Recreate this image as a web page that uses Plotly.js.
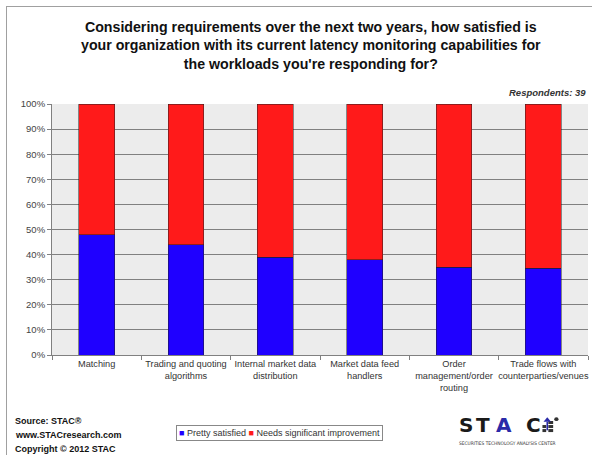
<!DOCTYPE html>
<html>
<head>
<meta charset="utf-8">
<script src="https://cdn.plot.ly/plotly-3.0.1.min.js"></script>
<style>
  html, body { margin: 0; padding: 0; background: #fff; }
  #wrap { position: relative; width: 592px; height: 455px; overflow: hidden; }
  #frame { position: absolute; left: 6px; top: 6px; width: 600px; height: 460px; border: 1px solid #a0a0a0; box-sizing: border-box; pointer-events: none; }
  #chart { position: absolute; left: 0; top: 0; width: 592px; height: 455px; }
</style>
</head>
<body>
<div id="wrap">
  <div id="chart"></div>
  <div id="frame"></div>
</div>
<script>
const categories = [
  "Matching",
  "Trading and quoting<br>algorithms",
  "Internal market data<br>distribution",
  "Market data feed<br>handlers",
  "Order<br>management/order<br>routing",
  "Trade flows with<br>counterparties/venues"
];
const prettySatisfied = [48, 44, 39, 38, 35, 34.5];
const needsImprovement = prettySatisfied.map(v => 100 - v);
const seriesNames = ["Pretty satisfied", "Needs significant improvement"];
const seriesColors = ["#1f00ff", "#ff1a1a"];
const yTickVals = [0, 10, 20, 30, 40, 50, 60, 70, 80, 90, 100];
const yTickText = yTickVals.map(v => v + "%");
const logoLetters = ["S", "T", "A", "C"];

const font = "Liberation Sans, Arial, sans-serif";

const traces = [
  {
    type: "bar", name: seriesNames[0], x: categories, y: prettySatisfied,
    marker: { color: seriesColors[0], line: { color: "#202020", width: 0.5 } },
    hoverinfo: "skip"
  },
  {
    type: "bar", name: seriesNames[1], x: categories, y: needsImprovement,
    marker: { color: seriesColors[1], line: { color: "#202020", width: 0.5 } },
    hoverinfo: "skip"
  }
];

const legendText = seriesNames.map((n, i) =>
  "<span style='color:" + seriesColors[i] + "'>■</span> " + n).join(" ");

const logoX = [0.7733, 0.805, 0.8424, 0.8983];
const logoAnnotations = logoLetters.map((l, i) => ({
  xref: "paper", yref: "paper", x: logoX[i], y: -0.279, xanchor: "center", yanchor: "middle",
  text: "<b>" + l + "</b>", showarrow: false,
  font: { family: "DejaVu Sans, sans-serif", size: 20, color: l === "A" ? "#2a2aa8" : "#1a1a1a" }
}));

const layout = {
  width: 592, height: 455,
  margin: { l: 52, r: 4, t: 104, b: 100, pad: 0 },
  paper_bgcolor: "#ffffff",
  plot_bgcolor: "#ececec",
  barmode: "stack",
  bargap: 0.6,
  showlegend: false,
  font: { family: font, color: "#333333", size: 10 },
  title: {
    text: "<b>Considering requirements over the next two years, how satisfied is<br>your organization with its current latency monitoring capabilities for<br>the workloads you're responding for?</b>",
    font: { family: font, size: 14.2, color: "#111111" },
    x: 0.525, xanchor: "center", y: 0.93, yanchor: "top"
  },
  xaxis: {
    type: "category",
    tickson: "boundaries",
    tickangle: 0,
    ticks: "outside", ticklen: 4, tickcolor: "#808080",
    showline: true, linecolor: "#808080", linewidth: 1,
    showgrid: false,
    tickfont: { family: font, size: 9.2, color: "#333333" },
    fixedrange: true
  },
  yaxis: {
    range: [0, 100],
    tickvals: yTickVals, ticktext: yTickText,
    ticks: "outside", ticklen: 4, tickcolor: "#808080",
    showline: true, linecolor: "#808080", linewidth: 1,
    showgrid: true, gridcolor: "#808080", gridwidth: 1,
    zeroline: false,
    tickfont: { family: font, size: 9.5, color: "#444444" },
    fixedrange: true
  },
  annotations: [
    { xref: "paper", yref: "paper", x: 1.0, y: 1.015, xanchor: "right", yanchor: "bottom",
      text: "<b><i>Respondents: 39</i></b>", showarrow: false,
      font: { family: font, size: 9.5, color: "#333333" } },
    { xref: "paper", yref: "paper", x: -0.073, y: -0.263, xanchor: "left", yanchor: "middle",
      text: "<b>Source: STAC®</b>", showarrow: false,
      font: { family: font, size: 9, color: "#111111" } },
    { xref: "paper", yref: "paper", x: -0.073, y: -0.319, xanchor: "left", yanchor: "middle",
      text: "<b>www.STACresearch.com</b>", showarrow: false,
      font: { family: font, size: 9, color: "#111111" } },
    { xref: "paper", yref: "paper", x: -0.073, y: -0.375, xanchor: "left", yanchor: "middle",
      text: "<b>Copyright © 2012 STAC</b>", showarrow: false,
      font: { family: font, size: 9, color: "#111111" } },
    { xref: "paper", yref: "paper", x: 0.425, y: -0.309, xanchor: "center", yanchor: "middle",
      text: legendText, showarrow: false,
      bgcolor: "#ffffff", bordercolor: "#888888", borderwidth: 1, borderpad: 2,
      font: { family: font, size: 9, color: "#333333" } },
    ...logoAnnotations,
    { xref: "paper", yref: "paper", x: 0.7556, y: -0.352, xanchor: "left", yanchor: "middle",
      text: "SECURITIES TECHNOLOGY ANALYSIS CENTER", showarrow: false,
      font: { family: "DejaVu Sans Condensed, DejaVu Sans, sans-serif", size: 4.8, color: "#333333" } }
  ],
  shapes: [
    // small logo icon
    { type: "rect", xref: "paper", yref: "paper", x0: 0.915, x1: 0.922, y0: -0.307, y1: -0.295, fillcolor: "#333333", line: { width: 0 } },
    { type: "rect", xref: "paper", yref: "paper", x0: 0.915, x1: 0.922, y0: -0.291, y1: -0.279, fillcolor: "#333333", line: { width: 0 } },
    { type: "rect", xref: "paper", yref: "paper", x0: 0.926, x1: 0.935, y0: -0.307, y1: -0.295, fillcolor: "#333333", line: { width: 0 } },
    { type: "rect", xref: "paper", yref: "paper", x0: 0.926, x1: 0.935, y0: -0.291, y1: -0.279, fillcolor: "#333333", line: { width: 0 } },
    { type: "rect", xref: "paper", yref: "paper", x0: 0.926, x1: 0.935, y0: -0.275, y1: -0.263, fillcolor: "#333333", line: { width: 0 } },
    { type: "rect", xref: "paper", yref: "paper", x0: 0.9225, x1: 0.9255, y0: -0.3, y1: -0.266, fillcolor: "#2a2aa8", line: { width: 0 } },
    { type: "path", xref: "paper", yref: "paper", path: "M 0.917 -0.266 L 0.924 -0.248 L 0.931 -0.266 Z", fillcolor: "#2a2aa8", line: { width: 0 } },
    { type: "circle", xref: "paper", yref: "paper", x0: 0.937, x1: 0.945, y0: -0.263, y1: -0.248, fillcolor: "#333333", line: { width: 0 } }
  ]
};

Plotly.newPlot("chart", traces, layout, { displayModeBar: false, staticPlot: true });
</script>
</body>
</html>
